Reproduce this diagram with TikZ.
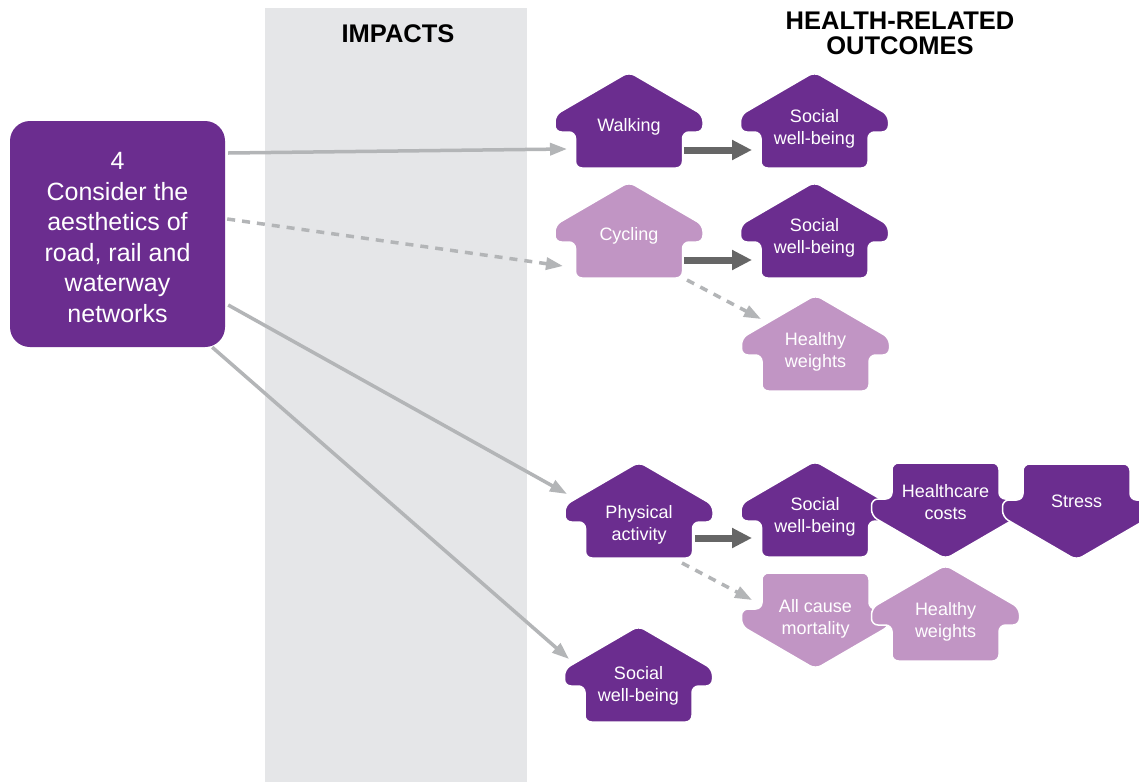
\documentclass[tikz,border=0pt]{standalone}
\usepackage{fontspec}
\setmainfont{Liberation Sans}
\usetikzlibrary{arrows.meta,calc}
\definecolor{dpurple}{RGB}{107,45,143}
\definecolor{lpurple}{RGB}{193,149,196}
\definecolor{bandgray}{RGB}{229,230,232}
\definecolor{lgray}{RGB}{179,181,183}
\definecolor{dgray}{RGB}{102,102,102}
\newcommand\UpShape[3]{%
  \path[fill=#3, draw=white, line width=1.5pt, rounded corners=6.5pt]
   (#1,#2-3) -- (#1+74,#2+40) -- ++(0,17) -- (#1+53.5,#2+57) -- ++(0,36) -- ++(-107,0)
   -- ++(0,-36) -- (#1-74,#2+57) -- ++(0,-17) -- cycle;}
\newcommand\DownShape[3]{%
  \path[fill=#3, draw=white, line width=1.5pt, rounded corners=6.5pt]
   (#1-53.5,#2) -- ++(107,0) -- ++(0,36) -- (#1+74,#2+36) -- ++(0,17) -- (#1,#2+96)
   -- (#1-74,#2+53) -- ++(0,-17) -- (#1-53.5,#2+36) -- cycle;}
\tikzset{
  lbl/.style={text=white, align=center, font=\fontsize{18}{22}\selectfont, inner sep=0pt, yshift=-2pt},
  mainbox/.style={fill=dpurple, rounded corners=20pt, minimum width=215pt, minimum height=226pt, inner sep=0pt},
  maintext/.style={text=white, align=center, inner sep=0pt, font=\fontsize{25}{30.6}\selectfont},
  header/.style={font=\bfseries\fontsize{25.5}{25.5}\selectfont, align=center, inner sep=0pt},
  lconn/.style={draw=lgray, line width=3.5pt, -{Triangle[length=17pt,width=12pt]}},
  ldash/.style={lconn, dash pattern=on 8pt off 7pt},
  dconn/.style={draw=dgray, line width=7pt, -{Triangle[length=20pt,width=19pt]}}
}
\begin{document}
\begin{tikzpicture}[x=1pt,y=-1pt]
\path[use as bounding box] (0,0) rectangle (1139,782);
\clip (0,0) rectangle (1139,782);
\fill[white] (0,0) rectangle (1139,782);
\fill[bandgray] (265,8) rectangle (527,782);
\node[header, anchor=base] (impacts) at (398,42) {IMPACTS};
\node[header, anchor=north] (outcomes) at (900,11.5) {HEALTH-RELATED\\OUTCOMES};

\node[mainbox] (main) at (117.5,234) {};
\node[maintext] (maintxt) at (117.5,237.5) {4\\Consider the\\aesthetics of\\road, rail and\\waterway\\networks};

% row 1
\UpShape{629}{75}{dpurple}
\node[lbl] (walk) at (629,125) {Walking};
\UpShape{814.5}{75}{dpurple}
\node[lbl] (soc1) at (814.5,127) {Social\\well-being};
% row 2
\UpShape{629}{185}{lpurple}
\node[lbl] (cyc) at (629,234) {Cycling};
\UpShape{814.5}{185}{dpurple}
\node[lbl] (soc2) at (814.5,236) {Social\\well-being};
\UpShape{815.5}{298}{lpurple}
\node[lbl] (hw1) at (815.5,350) {Healthy\\weights};
% row 3
\UpShape{639}{465}{dpurple}
\node[lbl] (phys) at (639,523) {Physical\\activity};
\UpShape{815}{464}{dpurple}
\node[lbl] (soc3) at (815,515) {Social\\well-being};
\DownShape{945.5}{463}{dpurple}
\node[lbl] (hc) at (945.5,500.5) {Healthcare\\costs};
\DownShape{1076.5}{464}{dpurple}
\node[lbl] (stress) at (1076.5,499) {Stress};
% row 4
\DownShape{815.5}{573}{lpurple}
\node[lbl] (acm) at (815.5,617) {All cause\\mortality};
\UpShape{945.5}{568}{lpurple}
\node[lbl] (hw2) at (945.5,620) {Healthy\\weights};
% bottom
\UpShape{638.5}{629}{dpurple}
\node[lbl] (soc4) at (638.5,684) {Social\\well-being};

% connectors from main box
\draw[lconn] ($(main.east)+(3,-81)$) -- ($(walk)+(-62,22)$);
\draw[ldash] ($(main.east)+(2,-15)$) -- ($(cyc)+(-66,30)$);
\draw[lconn] ($(main.east)+(3,71)$) -- ($(phys)+(-72,-31)$);
\draw[lconn] ($(main.south east)+(-13,0)$) -- ($(soc4)+(-69.5,-27)$);

% outcome links
\draw[dconn] ($(walk)+(55,23)$) -- ($(soc1)+(-62.5,21)$);
\draw[dconn] ($(cyc)+(55,24)$) -- ($(soc2)+(-62.5,22)$);
\draw[ldash] ($(cyc)+(58,44)$) -- ($(hw1)+(-54.5,-33)$);
\draw[dconn] ($(phys)+(56,13)$) -- ($(soc3)+(-63,21)$);
\draw[ldash] ($(phys)+(43,38)$) -- ($(acm)+(-63.5,-19)$);
\end{tikzpicture}
\end{document}
